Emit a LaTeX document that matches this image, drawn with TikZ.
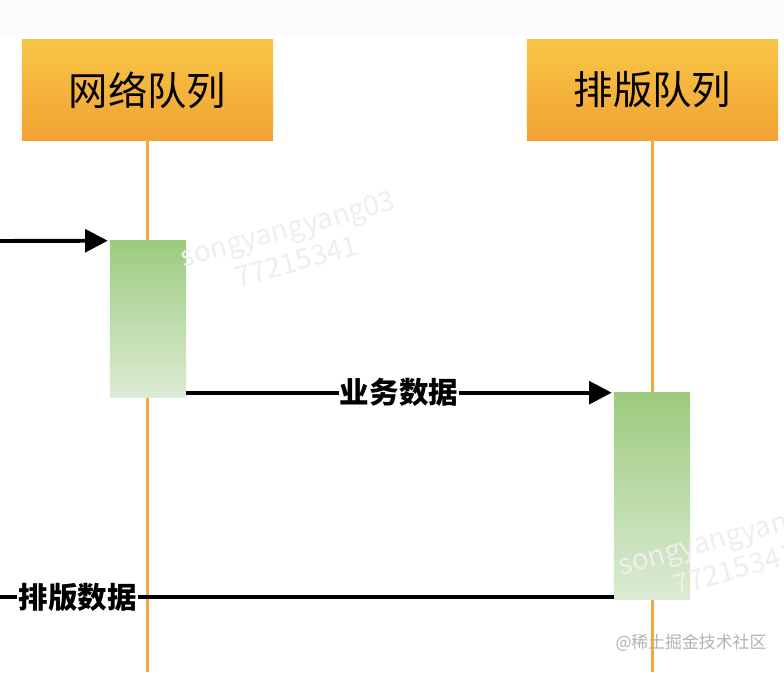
\documentclass[tikz,border=0pt]{standalone}
\usepackage{fontspec}
\setmainfont{Noto Sans CJK SC}
\usepackage{xcolor}
\usetikzlibrary{positioning,
	calc,
	arrows.meta}
\definecolor{boxtop}{HTML}{F8C646}
\definecolor{boxbottom}{HTML}{F1A233}
\definecolor{lifeorange}{HTML}{F3A83C}
\definecolor{acttop}{HTML}{9DCB7E}
\definecolor{actbottom}{HTML}{DCEBD4}
\tikzset{
	queue/.style={rectangle, top color=boxtop, bottom color=boxbottom, minimum width=6.275cm, minimum height=2.5cm, font=\fontsize{28}{32}\selectfont},
	life/.style={lifeorange, line width=2.2pt},
	act/.style={rectangle, top color=acttop, bottom color=actbottom, minimum width=1.9cm},
	msgline/.style={line width=2.8pt},
	msg/.style={msgline, -{Triangle[length=16pt, width=16pt]}},
	lbl/.style={fill=white, inner sep=1pt, font=\fontsize{21}{24}\selectfont\bfseries},
	wm/.style={text=gray!13, align=center, inner sep=0pt, font=\fontsize{20}{24}\selectfont, rotate=15}
}

\begin{document}
\begin{tikzpicture}[x=0.025cm, y=-0.025cm]
	\useasboundingbox (0, 0) rectangle (784, 672);
	\clip (0, 0) rectangle (784, 672);
	\fill[gray!3] (0, 0) rectangle (784, 35);
	\node[queue] (netq) at (147.5, 90) {网络队列};
	\node[queue] (typq) at (652.5, 90) {排版队列};
	\coordinate (netend) at (netq.south |- 0, 672);
	\coordinate (typend) at (typq.south |- 0, 672);
	\draw[life] (netq.south) -- (netend);
	\draw[life] (typq.south) -- (typend);
	\node[act, minimum height=3.9cm] (netact) at (148, 319) {};
	\node[act, minimum height=5.15cm] (typact) at (652, 496) {};
	\coordinate (inleft) at (0, 241);
	\coordinate (outleft) at (0, 597);
	\draw[msg] (inleft) -- ($(netact.north west)+(-2, 0)$);
	\draw[msg] (netact.east |- typact.north) -- node[lbl] {业务数据} ($(typact.north west)+(-2, 0)$);
	\draw[msgline] (typact.west |- outleft) -- node[lbl, pos=0.873] {排版数据} (outleft);
	% watermarks
	\node[wm] (wma) at (292, 245) {songyangyang03\\77215341};
	\node[wm] (wmb) at (730, 553) {songyangyang03\\77215341};
	\node[text=gray!60, font=\fontsize{12}{14}\selectfont] (site) at (691, 643) {@稀土掘金技术社区};
\end{tikzpicture}
\end{document}
